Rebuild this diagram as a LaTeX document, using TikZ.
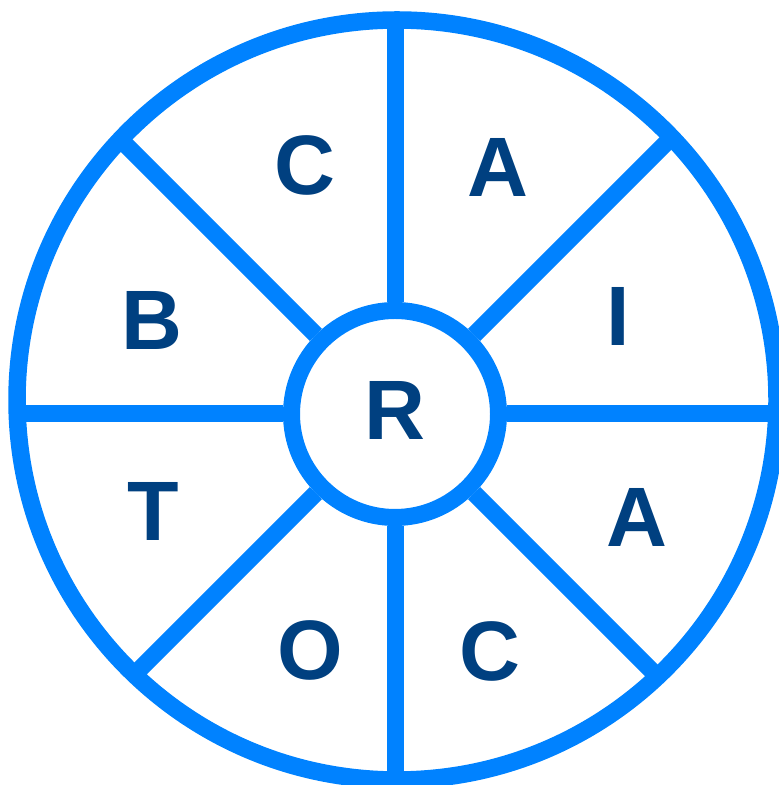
\documentclass[tikz,border=0pt]{standalone}
\usepackage{fontspec}
\setmainfont{Liberation Sans}
\usetikzlibrary{positioning}
\definecolor{wheelblue}{RGB}{0,130,255}
\definecolor{letterblue}{RGB}{0,64,128}
\tikzset{
  rim/.style={draw=wheelblue, line width=1.75mm},
  spoke/.style={draw=wheelblue, line width=1.7mm},
  hubring/.style={circle, draw=wheelblue, fill=white, line width=1.7mm, minimum size=20.7mm, inner sep=0pt},
  letter/.style={text=letterblue, inner sep=0pt, font=\fontsize{24}{28}\selectfont\bfseries},
}

\begin{document}
\begin{tikzpicture}[x=0.1mm, y=0.1mm]
    \useasboundingbox (0,0) rectangle (778,785);
    \coordinate (mid) at (397,385);
    \node[hubring] (hub) at (395,371) {};
    % spokes, cut off at the rim
    \begin{scope}
      \clip (mid) circle (380);
      \foreach \a in {0,45,...,315}
        \draw[spoke] (hub.\a) -- ++(\a:500);
    \end{scope}
    \draw[rim] (mid) circle (380);
    \node[letter] (r) at (395,375) {R};
    \node[letter] (c1) at (305,620) {C};
    \node[letter] (a1) at (498,618) {A};
    \node[letter] (i) at (618,469) {I};
    \node[letter] (a2) at (637,268) {A};
    \node[letter] (c2) at (490,134) {C};
    \node[letter] (o) at (310,135) {O};
    \node[letter] (t) at (153,274) {T};
    \node[letter] (b) at (152,465) {B};
\end{tikzpicture}
\end{document}
